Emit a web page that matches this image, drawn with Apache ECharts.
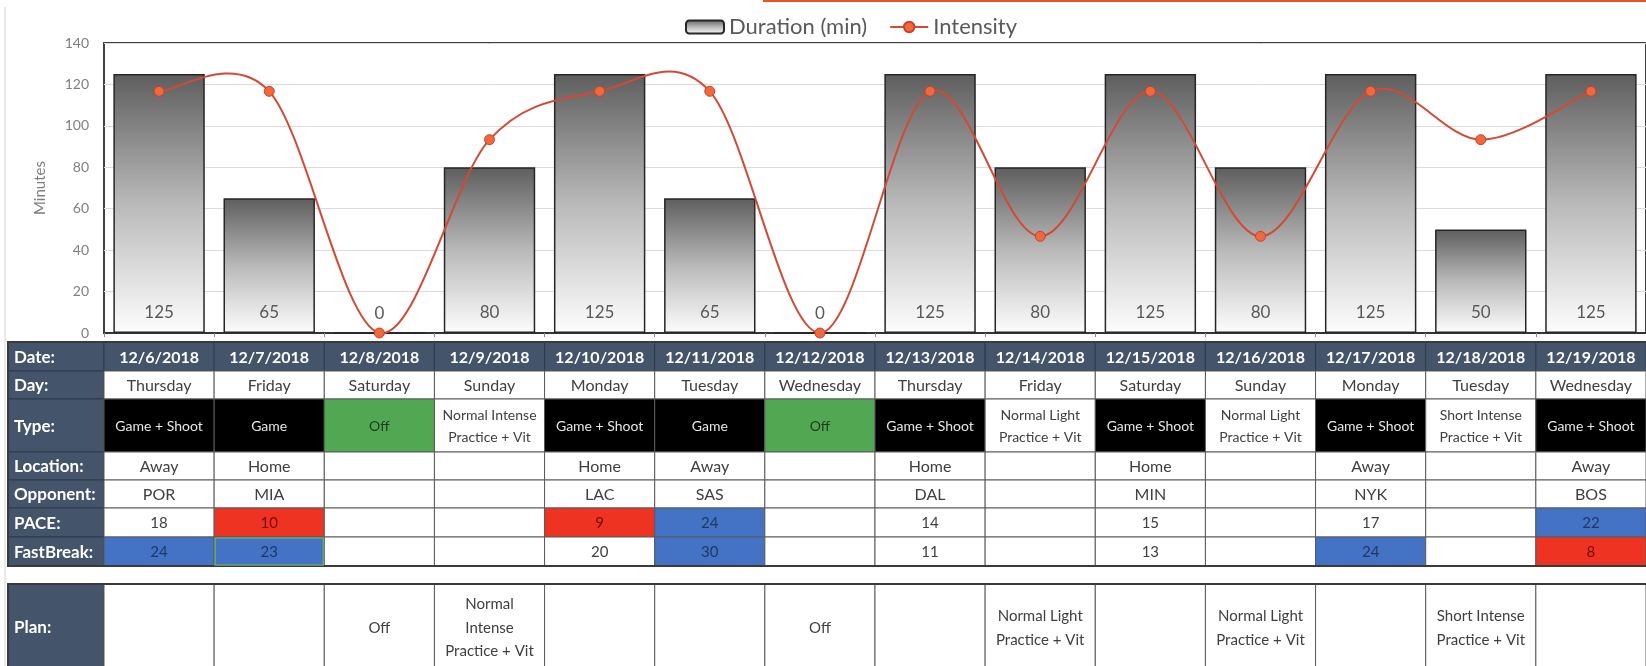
<!DOCTYPE html>
<html>
<head>
<meta charset="utf-8">
<title>Training load</title>
<script src="https://cdn.jsdelivr.net/npm/echarts@6/dist/echarts.min.js"></script>
<style>
  html, body { margin: 0; padding: 0; background: #fff; }
  #main { width: 1646px; height: 666px; }
</style>
</head>
<body>
<div id="main"></div>
<script>
// chart data
var dates = ['12/6/2018', '12/7/2018', '12/8/2018', '12/9/2018', '12/10/2018', '12/11/2018', '12/12/2018',
  '12/13/2018', '12/14/2018', '12/15/2018', '12/16/2018', '12/17/2018', '12/18/2018', '12/19/2018'];
var duration = [125, 65, 0, 80, 125, 65, 0, 125, 80, 125, 80, 125, 50, 125];
var intensity = [5, 5, 0, 4, 5, 5, 0, 5, 2, 5, 2, 5, 4, 5];
var minuteTicks = [0, 20, 40, 60, 80, 100, 120, 140];

// table data
var days = ['Thursday', 'Friday', 'Saturday', 'Sunday', 'Monday', 'Tuesday', 'Wednesday',
  'Thursday', 'Friday', 'Saturday', 'Sunday', 'Monday', 'Tuesday', 'Wednesday'];
var types = ['Game + Shoot', 'Game', 'Off', 'Normal Intense\nPractice + Vit', 'Game + Shoot', 'Game', 'Off',
  'Game + Shoot', 'Normal Light\nPractice + Vit', 'Game + Shoot', 'Normal Light\nPractice + Vit', 'Game + Shoot',
  'Short Intense\nPractice + Vit', 'Game + Shoot'];
var locations = ['Away', 'Home', '', '', 'Home', 'Away', '', 'Home', '', 'Home', '', 'Away', '', 'Away'];
var opponents = ['POR', 'MIA', '', '', 'LAC', 'SAS', '', 'DAL', '', 'MIN', '', 'NYK', '', 'BOS'];
var pace = [18, 10, null, null, 9, 24, null, 14, null, 15, null, 17, null, 22];
var fastBreak = [24, 23, null, null, 20, 30, null, 11, null, 13, null, 24, null, 8];
var plans = ['', '', 'Off', 'Normal\nIntense\nPractice + Vit', '', '', 'Off', '', 'Normal Light\nPractice + Vit',
  '', 'Normal Light\nPractice + Vit', '', 'Short Intense\nPractice + Vit', ''];

var FONT = 'Lato, "Open Sans", sans-serif';
var SLATE = '#44546a';
var LINE_RED = '#d24a35';

var chart = echarts.init(document.getElementById('main'));

// excel style smoothed curve (catmull-rom through the points)
function renderCurve(params, api) {
  if (params.dataIndex !== 0) return;
  var pts = intensity.map(function (v, i) { return api.coord([i, v]); });
  var n = pts.length;
  var d = 'M' + pts[0][0] + ' ' + pts[0][1];
  for (var i = 0; i < n - 1; i++) {
    var p0 = pts[Math.max(i - 1, 0)], p1 = pts[i], p2 = pts[i + 1], p3 = pts[Math.min(i + 2, n - 1)];
    var c1x = p1[0] + (p2[0] - p0[0]) / 6, c1y = p1[1] + (p2[1] - p0[1]) / 6;
    var c2x = p2[0] - (p3[0] - p1[0]) / 6, c2y = p2[1] - (p3[1] - p1[1]) / 6;
    d += ' C' + c1x + ' ' + c1y + ' ' + c2x + ' ' + c2y + ' ' + p2[0] + ' ' + p2[1];
  }
  return {
    type: 'path',
    shape: { pathData: d },
    style: { fill: 'none', stroke: LINE_RED, lineWidth: 2 }
  };
}

var option = {
  backgroundColor: '#ffffff',
  animation: false,
  textStyle: { fontFamily: FONT },
  legend: {
    data: [
      { name: 'Duration (min)' },
      { name: 'Intensity', lineStyle: { opacity: 1, color: LINE_RED, width: 2 } }
    ],
    left: 680,
    top: 11,
    itemWidth: 38,
    itemHeight: 13,
    itemGap: 22,
    textStyle: { color: '#595959', fontSize: 22, fontFamily: FONT }
  },
  grid: {
    left: 104,
    top: 43,
    right: -11,
    bottom: 333,
    show: true,
    borderColor: '#404040',
    borderWidth: 2
  },
  xAxis: {
    type: 'category',
    data: dates,
    axisLabel: { show: false },
    axisTick: { show: true, length: 4, lineStyle: { color: '#8c8c8c' } },
    axisLine: { lineStyle: { color: '#333333', width: 2 } }
  },
  yAxis: [{
    type: 'value',
    min: minuteTicks[0],
    max: minuteTicks[minuteTicks.length - 1],
    interval: minuteTicks[1] - minuteTicks[0],
    name: 'Minutes',
    nameLocation: 'middle',
    nameGap: 56,
    nameTextStyle: { color: '#7f7f7f', fontSize: 15, fontFamily: FONT },
    axisLabel: { color: '#7f7f7f', fontSize: 14, margin: 15, fontFamily: FONT },
    axisLine: { show: false },
    axisTick: { show: false },
    splitLine: { lineStyle: { color: '#dcdcdc' } }
  }, {
    // hidden scale for the intensity line
    type: 'value',
    min: 0,
    max: 6,
    show: false,
    splitLine: { show: false }
  }],
  series: [{
    name: 'Duration (min)',
    type: 'bar',
    data: duration,
    barCategoryGap: '17%',
    itemStyle: {
      color: new echarts.graphic.LinearGradient(0, 0, 0, 1, [
        { offset: 0, color: '#5e5e5e' },
        { offset: 0.5, color: '#b9b9b9' },
        { offset: 1, color: '#fdfdfd' }
      ]),
      borderColor: '#262626',
      borderWidth: 1.5
    },
    label: {
      show: true,
      position: 'insideBottom',
      distance: 12,
      color: '#595959',
      fontSize: 17,
      fontFamily: FONT
    }
  }, {
    type: 'custom',
    yAxisIndex: 1,
    data: intensity.map(function (v, i) { return [i, v]; }),
    renderItem: renderCurve,
    silent: true,
    z: 3
  }, {
    name: 'Intensity',
    type: 'line',
    yAxisIndex: 1,
    data: intensity,
    symbol: 'circle',
    symbolSize: 10,
    lineStyle: { opacity: 0 },
    itemStyle: { color: '#f0693b', borderColor: '#c8402e', borderWidth: 1 },
    z: 4
  }]
};
chart.setOption(option);

// build the table under the chart, columns taken from the category axis
function condColor(v) {
  if (v == null) return null;
  if (v <= 10) return { fill: '#ee3322', text: '#7a0a0a' };
  if (v > 20) return { fill: '#4472c4', text: '#1f3864' };
  return null;
}

function drawTable() {
  var c0 = chart.convertToPixel({ xAxisIndex: 0 }, 0);
  var c1 = chart.convertToPixel({ xAxisIndex: 0 }, 1);
  var band = c1 - c0;
  var tableLeft = 8;
  var els = [];

  function cell(x, y, w, h, fill, text, st) {
    els.push({
      type: 'rect', silent: true, z: 10,
      shape: { x: x, y: y, width: w, height: h },
      style: { fill: fill, stroke: st.stroke || '#5a5a5a', lineWidth: 1 }
    });
    if (text !== '' && text != null) {
      var left = st.align === 'left';
      els.push({
        type: 'text', silent: true, z: 11,
        style: {
          text: String(text),
          x: left ? x + 6 : x + w / 2,
          y: y + h / 2 + 1,
          fill: st.color || '#404040',
          fontSize: st.size || 15,
          fontWeight: st.bold ? 'bold' : 'normal',
          fontFamily: FONT,
          lineHeight: st.lh || (st.size || 15) * 1.3,
          align: left ? 'left' : 'center',
          verticalAlign: 'middle',
          textAlign: left ? 'left' : 'center',
          textVerticalAlign: 'middle'
        }
      });
    }
  }

  var rows = [
    { label: 'Date:', h: 29, values: dates, kind: 'head' },
    { label: 'Day:', h: 28, values: days },
    { label: 'Type:', h: 53, values: types, kind: 'type' },
    { label: 'Location:', h: 28, values: locations },
    { label: 'Opponent:', h: 28, values: opponents },
    { label: 'PACE:', h: 29, values: pace, kind: 'cond' },
    { label: 'FastBreak:', h: 29, values: fastBreak, kind: 'cond' }
  ];

  var y = 342;
  rows.forEach(function (r) {
    cell(tableLeft, y, c0 - band / 2 - tableLeft, r.h, SLATE, r.label,
      { align: 'left', bold: true, size: 17, color: '#ffffff', stroke: '#2e3a4a' });
    for (var i = 0; i < dates.length; i++) {
      var x = chart.convertToPixel({ xAxisIndex: 0 }, i) - band / 2;
      var v = r.values[i];
      if (r.kind === 'head') {
        cell(x, y, band, r.h, SLATE, v, { bold: true, size: 16, color: '#ffffff', stroke: '#2e3a4a' });
      } else if (r.kind === 'type') {
        if (v === 'Off') {
          cell(x, y, band, r.h, '#52a852', v, { size: 14, color: '#1d3b1d' });
        } else if (/^Game/.test(v)) {
          cell(x, y, band, r.h, '#000000', v, { size: 14, color: '#e6e6e6' });
        } else {
          cell(x, y, band, r.h, '#ffffff', v, { size: 14, color: '#404040', lh: 22 });
        }
      } else if (r.kind === 'cond') {
        var cc = condColor(v);
        cell(x, y, band, r.h, cc ? cc.fill : '#ffffff', v == null ? '' : v,
          { size: 15, color: cc ? cc.text : '#404040' });
      } else {
        cell(x, y, band, r.h, '#ffffff', v, { size: 16, color: '#404040' });
      }
    }
    y += r.h;
  });
  // outer frame of the upper table
  els.push({
    type: 'rect', silent: true, z: 12,
    shape: { x: tableLeft, y: 342, width: 1700, height: y - 342 },
    style: { fill: 'none', stroke: '#3a3a3a', lineWidth: 2 }
  });
  // excel selection box on 12/7 FastBreak
  var sx = chart.convertToPixel({ xAxisIndex: 0 }, 1) - band / 2;
  els.push({
    type: 'rect', silent: true, z: 13,
    shape: { x: sx + 1, y: y - 29 + 1, width: band - 2, height: 27 },
    style: { fill: 'none', stroke: '#6aa86a', lineWidth: 1.5 }
  });

  // plan row
  var py = 584, ph = 86;
  cell(tableLeft, py, c0 - band / 2 - tableLeft, ph, SLATE, 'Plan:',
    { align: 'left', bold: true, size: 17, color: '#ffffff', stroke: '#2e3a4a' });
  for (var j = 0; j < dates.length; j++) {
    var px = chart.convertToPixel({ xAxisIndex: 0 }, j) - band / 2;
    cell(px, py, band, ph, '#ffffff', plans[j], { size: 15, color: '#404040', lh: 23.5 });
  }
  els.push({
    type: 'rect', silent: true, z: 12,
    shape: { x: tableLeft, y: py, width: 1700, height: ph },
    style: { fill: 'none', stroke: '#3a3a3a', lineWidth: 2 }
  });

  // frame line on the left and the orange strip on top
  els.push({
    type: 'line', silent: true, z: 1,
    shape: { x1: 5, y1: 7, x2: 5, y2: 666 },
    style: { stroke: '#d4d4d4', lineWidth: 1 }
  });
  els.push({
    type: 'rect', silent: true, z: 20,
    shape: { x: 763, y: 0, width: 900, height: 2 },
    style: { fill: '#e8542a' }
  });

  chart.setOption({ graphic: { elements: els } });
}
drawTable();
</script>
</body>
</html>
